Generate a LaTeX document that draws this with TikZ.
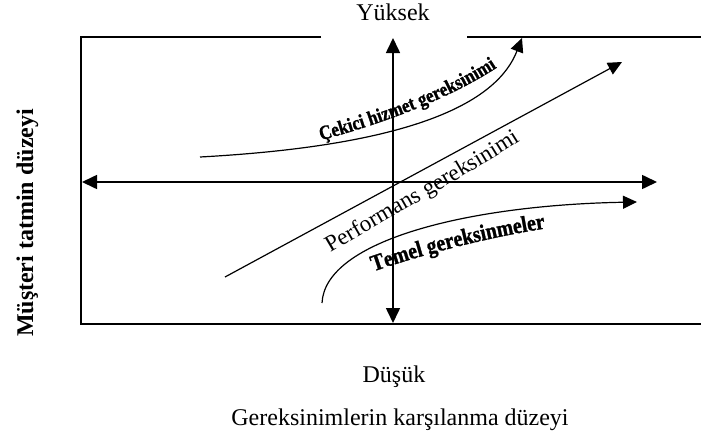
\documentclass[tikz,border=0pt]{standalone}
\usepackage{fontspec}
\setmainfont{Liberation Serif}
\newfontfamily\wordartfont[FakeStretch=0.86,FakeBold=1.2]{Liberation Serif Bold}
\usetikzlibrary{arrows.meta,decorations.text}
\begin{document}
\begin{tikzpicture}[x=0.5pt,y=-0.5pt,
  frameline/.style={line width=0.9pt},
  axisline/.style={line width=0.8pt,{Triangle[length=7.5pt,width=7pt]}-{Triangle[length=7.5pt,width=7pt]}},
  curveline/.style={line width=0.6pt,-{Triangle[length=7pt,width=6.5pt]}},
  lbl/.style={font=\fontsize{12}{14}\selectfont,inner sep=0pt},
  boldlbl/.style={font=\bfseries\fontsize{12}{14}\selectfont,inner sep=0pt}
]
\useasboundingbox (0,0) rectangle (701,439);
% frame
\coordinate (ftl) at (81,37);
\coordinate (fbl) at (81,324);
\coordinate (fbr) at (701,324);
\coordinate (ftr) at (701,37);
\coordinate (gapL) at (321,37);
\coordinate (gapR) at (467,37);
\draw[frameline] (gapL) -- (ftl) -- (fbl) -- (fbr);
\draw[frameline] (gapR) -- (ftr);
% axes
\coordinate (vt) at (393,38);
\coordinate (vb) at (393,323);
\coordinate (hl) at (82,182);
\coordinate (hr) at (657,182);
\draw[axisline] (vb) -- (vt);
\draw[axisline] (hl) -- (hr);
% curves
\coordinate (perfS) at (225,277);
\coordinate (perfE) at (622,62);
\draw[curveline] (perfS) -- (perfE);
\coordinate (cekS) at (200,157);
\coordinate (cekE) at (522,38);
\draw[curveline] (cekS) .. controls (420,145) and (498,100) .. (cekE);
\coordinate (temS) at (322,303);
\coordinate (temE) at (637,202);
\draw[curveline] (temS) .. controls (325,240) and (470,205) .. (temE);
% curve labels
\path[decorate,decoration={text along path,text align=center,
  text={|\wordartfont\fontsize{10}{12}\selectfont|Çekici hizmet gereksinimi}}]
  (300,146) .. controls (370,128) and (455,100) .. (515,55);
\path[decorate,decoration={text along path,text align=center,
  text={|\fontsize{11.5}{13}\selectfont|Performans gereksinimi}}]
  (305,268) .. controls (380,222) and (470,175) .. (545,125);
\path[decorate,decoration={text along path,text align=center,
  text={|\wordartfont\fontsize{11.5}{13}\selectfont|Temel gereksinmeler}}]
  (358,277) .. controls (415,256) and (490,236) .. (562,226);
% axis labels
\node[lbl,anchor=base] (yuk) at (393,20) {Yüksek};
\node[lbl,anchor=base] (dus) at (394,382) {Düşük};
\node[lbl,anchor=base] (ger) at (400,425) {Gereksinimlerin karşılanma düzeyi};
\node[boldlbl,rotate=90,anchor=base] (mus) at (33,223) {Müşteri tatmin düzeyi};
\end{tikzpicture}
\end{document}
